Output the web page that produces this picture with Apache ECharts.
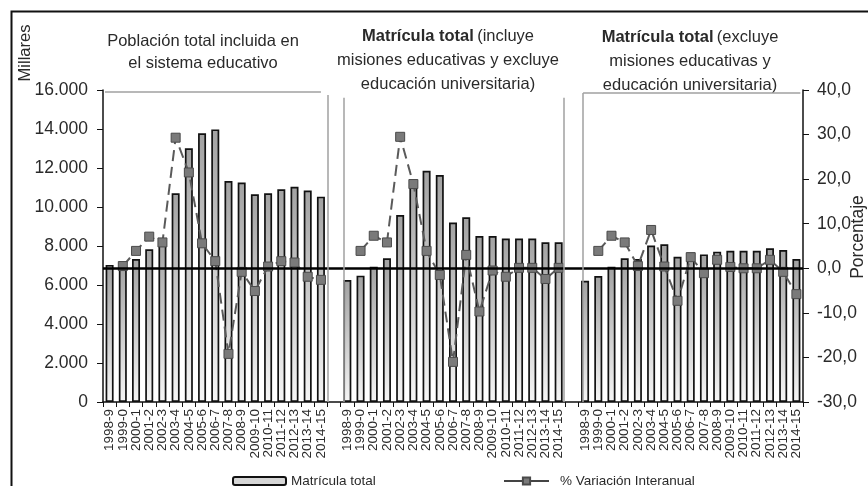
<!DOCTYPE html>
<html><head><meta charset="utf-8">
<script src="https://cdn.jsdelivr.net/npm/echarts@6/dist/echarts.min.js"></script>
<style>html,body{margin:0;padding:0;background:#fff}#c{width:868px;height:486px}</style>
</head><body><div id="c"></div>
<script>
const years = ['1998-9','1999-0','2000-1','2001-2','2002-3','2003-4','2004-5','2005-6','2006-7','2007-8','2008-9','2009-10','2010-11','2011-12','2012-13','2013-14','2014-15'];
const poblacionTotal = [7030,7110,7330,7830,8340,10700,13010,13780,13980,11330,11250,10650,10700,10910,11040,10840,10530];
const poblacionVar = [null,0.5,3.9,7.1,5.8,29.3,21.5,5.6,1.6,-19.2,-0.8,-5.1,0.4,1.6,1.3,-1.9,-2.6];
const matriculaIncluye = [6260,6480,6940,7370,9590,11380,11860,11640,9200,9470,8510,8510,8380,8380,8380,8190,8190];
const matriculaIncluyeVar = [null,3.9,7.3,5.8,29.5,18.9,3.9,-1.5,-21.0,3.0,-9.7,-0.5,-1.9,0.1,0.1,-2.4,0.1];
const matriculaExcluye = [6220,6460,6940,7370,7330,8020,8090,7450,7660,7570,7710,7760,7760,7760,7880,7790,7330];
const matriculaExcluyeVar = [null,3.9,7.3,5.8,0.5,8.6,0.4,-7.3,2.5,-1.1,1.9,0.3,0.0,0.0,1.9,-0.8,-5.8];
const seriesNames = ['Matrícula total', '% Variación Interanual'];

const cats = [...years.map(y => 'a' + y), 'gap1', ...years.map(y => 'b' + y), 'gap2', ...years.map(y => 'c' + y)];
const barData = [...poblacionTotal, null, ...matriculaIncluye, null, ...matriculaExcluye];
const varData = [...poblacionVar, null, ...matriculaIncluyeVar, null, ...matriculaExcluyeVar];

const FONT = '"Liberation Sans", Arial, sans-serif';
const TXT = '#2a2a2a';
const chart = echarts.init(document.getElementById('c'), null, {renderer: 'canvas'});

const frameLine = (x1, y1, x2, y2) => [{coord: [x1, y1]}, {coord: [x2, y2]}];

chart.setOption({
  animation: false,
  backgroundColor: '#fff',
  textStyle: {fontFamily: FONT},
  grid: {left: 103, right: 65, top: 90, bottom: 84, containLabel: false},
  xAxis: [{
    type: 'category', data: cats, boundaryGap: true,
    axisLine: {lineStyle: {color: '#111', width: 1.5}},
    axisTick: {show: true, interval: 0, length: 5, lineStyle: {color: '#111'}},
    axisLabel: {interval: 0, rotate: 90, margin: 7, fontSize: 13.5, color: TXT, fontFamily: FONT,
      formatter: v => v.startsWith('gap') ? '' : v.slice(1)}
  }, {
    type: 'value', min: 0, max: 53, show: false
  }],
  yAxis: [{
    type: 'value', min: 0, max: 16000, interval: 2000, position: 'left',
    axisLine: {show: true, lineStyle: {color: '#111', width: 1.5}},
    axisTick: {show: true, length: 6, lineStyle: {color: '#111'}},
    splitLine: {show: false},
    axisLabel: {margin: 15, fontSize: 17.5, color: TXT, fontFamily: FONT,
      formatter: v => String(v).replace(/\B(?=(\d{3})+(?!\d))/g, '.')}
  }, {
    type: 'value', min: -30, max: 40, interval: 10, position: 'right',
    axisLine: {show: true, lineStyle: {color: '#111', width: 1.5}},
    axisTick: {show: true, length: 6, lineStyle: {color: '#111'}},
    splitLine: {show: false},
    axisLabel: {margin: 14, fontSize: 17.5, color: TXT, fontFamily: FONT,
      formatter: v => v.toFixed(1).replace('.', ',')}
  }],
  legend: [{
    data: [seriesNames[0]], left: 227, top: 469, itemWidth: 53, itemHeight: 8,
    itemStyle: {color: '#d6d6d6', borderColor: '#111', borderWidth: 2},
    textStyle: {fontSize: 13.5, color: TXT, fontFamily: FONT}
  }, {
    data: [seriesNames[1]], left: 498, top: 469, itemWidth: 45, itemHeight: 9,
    lineStyle: {type: 'solid', color: '#444', width: 2},
    textStyle: {fontSize: 13.5, color: TXT, fontFamily: FONT, padding: [0,0,0,6]}
  }],
  series: [{
    name: seriesNames[0], type: 'bar', data: barData, barWidth: 8,
    itemStyle: {
      color: new echarts.graphic.LinearGradient(0, 0, 0, 1, [
        {offset: 0, color: '#a2a2a2'}, {offset: 1, color: '#f6f6f6'}]),
      borderColor: '#111', borderWidth: 1.7
    }
  }, {
    name: seriesNames[1], type: 'line', yAxisIndex: 1, data: varData, connectNulls: false,
    symbol: 'rect', symbolSize: 9, showAllSymbol: true,
    lineStyle: {color: '#5a5a5a', width: 2, type: [11, 6]},
    itemStyle: {color: '#7a7a7a', borderColor: '#4a4a4a', borderWidth: 1},
    z: 3,
    markLine: {
      silent: true, symbol: 'none', label: {show: false},
      lineStyle: {color: '#000', width: 2.5, type: 'solid'},
      data: [{yAxis: 0}]
    }
  }, {
    type: 'line', xAxisIndex: 1, yAxisIndex: 0, data: [], silent: true,
    markLine: {
      silent: true, symbol: 'none', label: {show: false}, animation: false,
      lineStyle: {color: '#a0a0a0', width: 1.5, type: 'solid'},
      data: [
        frameLine(0.15, 15900, 16.5, 15900),
        frameLine(17.05, 15750, 17.05, 0),
        frameLine(18.25, 15600, 18.25, 0),
        frameLine(34.85, 15600, 34.85, 0),
        frameLine(36.35, 15850, 36.35, 0),
        frameLine(36.35, 15850, 52.8, 15850)
      ]
    }
  }],
  graphic: [
    {type: 'rect', left: 9, top: 9, shape: {x: 0, y: 0, width: 900, height: 500},
      style: {fill: 'none', stroke: '#111', lineWidth: 2}, silent: true, z: 100},
    {type: 'text', x: 25, y: 53, rotation: Math.PI / 2,
      style: {text: 'Millares', fontSize: 16.5, fill: TXT, font: '16.5px ' + FONT, align: 'center', verticalAlign: 'middle'}},
    {type: 'text', x: 858, y: 237, rotation: Math.PI / 2,
      style: {text: 'Porcentaje', fontSize: 17.5, fill: TXT, font: '17.5px ' + FONT, align: 'center', verticalAlign: 'middle'}},
    {type: 'text', x: 203, y: 30,
      style: {text: 'Población total incluida en\nel sistema educativo', font: '16.5px ' + FONT, fill: TXT,
        align: 'center', verticalAlign: 'top', lineHeight: 22}},
    {type: 'text', x: 448, y: 24,
      style: {text: '{b|Matrícula total} {n|(incluye}\n{n|misiones educativas y excluye}\n{n|educación universitaria)}',
        align: 'center', verticalAlign: 'top', fill: TXT,
        rich: {b: {fontWeight: 'bold', fontSize: 16.5, fontFamily: FONT, lineHeight: 24, fill: TXT, align: 'center'},
               n: {fontSize: 16.5, fontFamily: FONT, lineHeight: 24, fill: TXT, align: 'center'}}}},
    {type: 'text', x: 690, y: 25,
      style: {text: '{b|Matrícula total} {n|(excluye}\n{n|misiones educativas y}\n{n|educación universitaria)}',
        align: 'center', verticalAlign: 'top', fill: TXT,
        rich: {b: {fontWeight: 'bold', fontSize: 16.5, fontFamily: FONT, lineHeight: 24, fill: TXT, align: 'center'},
               n: {fontSize: 16.5, fontFamily: FONT, lineHeight: 24, fill: TXT, align: 'center'}}}}
  ]
});
</script>
</body></html>
